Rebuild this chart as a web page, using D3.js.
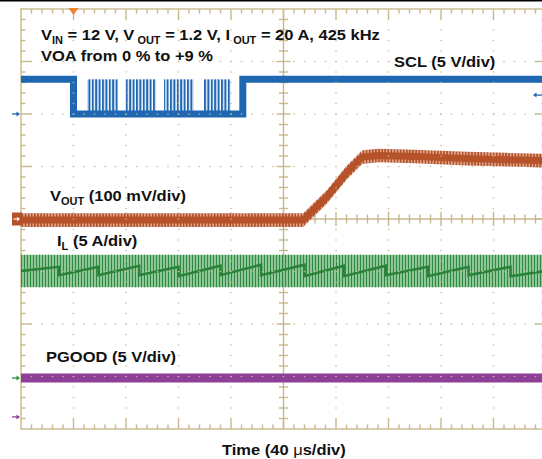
<!DOCTYPE html>
<html>
<head>
<meta charset="utf-8">
<script src="https://cdn.jsdelivr.net/npm/d3@7"></script>
<style>
  body { margin: 0; background: #fff; }
  svg { display: block; }
  .lbl { font-family: "Liberation Sans", Arial, sans-serif; font-weight: bold; font-size: 15px; fill: #111; }
</style>
</head>
<body>
<div id="vis"></div>
<script>
const FRAME_WIDTH = 542;
const FRAME_HEIGHT = 459;
const GRID = {left: 21, top: 9, div: 52.5, nx: 10, ny: 8};

// time axis in µs, trigger at 0, 40 us/div
const TIME_DOMAIN = [-40, 360];

// SCL in volts (5 V/div, ground 2 div above centre)
const SCL_T = [-40, 0, 0, 129, 129, 360];
const SCL_V = [3.3, 3.3, 0, 0, 3.3, 3.3];
const SCL_BURST_START = [10.3, 39.2, 69, 99.4];
const SCL_BURST_END = [33.9, 62.9, 91.8, 120];
const SCL_TRIG_LEVEL = 1.8;

// VOUT deviation in mV (100 mV/div, ground at centre)
const VOUT_T = [-40, 175, 193, 208, 220, 232, 260, 300, 330, 360];
const VOUT_MV = [-2, -2, 42, 88, 118, 121, 119, 115, 113, 111];
const VOUT_RIPPLE = 13;

// inductor current in A (5 A/div): ripple envelope and the darker mean sawtooth
const IL_ENV_T = [-40, 360];
const IL_ENV_A = [10.2, 10.2];
const IL_RIPPLE = 1.55;
const IL_T = [-40, -11, -11, 19, 19, 50, 50, 80, 80, 112, 112, 143, 143, 176, 176, 206, 206, 238, 238, 270, 270, 301, 301, 333, 333, 360];
const IL_A = [10.2, 10.6, 9.8, 10.6, 9.8, 10.7, 9.8, 10.6, 9.7, 10.7, 9.8, 10.8, 9.8, 10.8, 9.7, 10.7, 9.7, 10.7, 9.8, 10.6, 9.7, 10.6, 9.8, 10.6, 9.7, 10.2];

// PGOOD in volts (5 V/div)
const PG_T = [-40, 360];
const PG_V = [3.7, 3.7];

// channel settings: units per div and ground offset in div
const CHANNELS = {
  scl: {perDiv: 5, offset: 2.0, color: '#1f66b3'},
  vout: {perDiv: 100, offset: 0, color: '#b5522a'},
  il: {perDiv: 5, offset: -3.03, color: '#2e8b3e'},
  pg: {perDiv: 5, offset: -3.77, color: '#8e3f98'}
};

const GRID_COLOR = '#c8b88c';

const svg = d3.select('#vis')
  .append('svg')
    .attr('width', FRAME_WIDTH)
    .attr('height', FRAME_HEIGHT);

const X_RIGHT = GRID.left + GRID.nx * GRID.div;
const Y_BOTTOM = GRID.top + GRID.ny * GRID.div;

const X_SCALE = d3.scaleLinear().domain(TIME_DOMAIN).range([GRID.left, X_RIGHT]);
const Y_DIV = d3.scaleLinear().domain([-GRID.ny / 2, GRID.ny / 2]).range([Y_BOTTOM, GRID.top]);

// one scale per channel, value -> pixel
function chScale(ch) {
  const c = CHANNELS[ch];
  return d3.scaleLinear()
    .domain([0, c.perDiv])
    .range([Y_DIV(c.offset), Y_DIV(c.offset + 1)]);
}
const Y_SCL = chScale('scl');
const Y_VOUT = chScale('vout');
const Y_IL = chScale('il');
const Y_PG = chScale('pg');

// patterns for the switching ripple
const defs = svg.append('defs');
function stripes(id, w, parts) {
  const p = defs.append('pattern')
    .attr('id', id)
    .attr('patternUnits', 'userSpaceOnUse')
    .attr('width', w).attr('height', 10);
  let x0 = 0;
  parts.forEach(([pw, col]) => {
    p.append('rect').attr('x', x0).attr('y', 0).attr('width', pw).attr('height', 10).attr('fill', col);
    x0 += pw;
  });
}
stripes('voutStripe', 3.1, [[1.9, '#b5522a'], [1.2, '#dc9f86']]);
stripes('ilStripe', 3.0, [[1.5, '#2e8b3e'], [1.5, '#8cc597']]);
stripes('sclStripe', 3.4, [[2.0, '#1f66b3'], [0.5, '#9bbbe0'], [0.9, '#ffffff']]);

// top black rule
svg.append('rect')
  .attr('x', 0).attr('y', 0).attr('width', FRAME_WIDTH).attr('height', 1.5)
  .attr('fill', '#000');

// borders and centre axes with ticks
const gAxes = svg.append('g').attr('stroke', GRID_COLOR).attr('stroke-width', 1.4).attr('fill', 'none');
gAxes.append('rect')
  .attr('x', GRID.left).attr('y', GRID.top)
  .attr('width', X_RIGHT - GRID.left).attr('height', Y_BOTTOM - GRID.top);

const xc = X_SCALE((TIME_DOMAIN[0] + TIME_DOMAIN[1]) / 2);
const yc = Y_DIV(0);
gAxes.append('line').attr('x1', GRID.left).attr('x2', X_RIGHT).attr('y1', yc).attr('y2', yc);
gAxes.append('line').attr('x1', xc).attr('x2', xc).attr('y1', GRID.top).attr('y2', Y_BOTTOM);

const minor = GRID.div / 5;
for (let i = 1; i < GRID.nx * 5; i++) {
  const x = GRID.left + i * minor;
  const major = i % 5 === 0;
  const len = major ? 10 : 4.5;
  gAxes.append('line').attr('x1', x).attr('x2', x).attr('y1', Y_BOTTOM).attr('y2', Y_BOTTOM - len);
  gAxes.append('line').attr('x1', x).attr('x2', x).attr('y1', GRID.top).attr('y2', GRID.top + len);
  gAxes.append('line').attr('x1', x).attr('x2', x).attr('y1', yc - (major ? 7 : 4.5)).attr('y2', yc + (major ? 7 : 4.5));
}
for (let j = 1; j < GRID.ny * 5; j++) {
  const y = GRID.top + j * minor;
  const major = j % 5 === 0;
  const len = major ? 11 : 4.5;
  gAxes.append('line').attr('x1', GRID.left).attr('x2', GRID.left + len).attr('y1', y).attr('y2', y);
  gAxes.append('line').attr('x1', X_RIGHT).attr('x2', X_RIGHT - len).attr('y1', y).attr('y2', y);
  gAxes.append('line').attr('x1', xc - (major ? 7 : 4.5)).attr('x2', xc + (major ? 7 : 4.5)).attr('y1', y).attr('y2', y);
}

// ---- traces ----
const line = (xs, ys, yS) => d3.line()
  .x((d, i) => X_SCALE(xs[i]))
  .y((d, i) => yS(ys[i]))(xs);

// PGOOD
svg.append('path')
  .attr('d', line(PG_T, PG_V, Y_PG))
  .attr('fill', 'none')
  .attr('stroke', CHANNELS.pg.color)
  .attr('stroke-width', 9);

// IL ripple band + mean sawtooth
const ilArea = d3.area()
  .x((d, i) => X_SCALE(IL_ENV_T[i]))
  .y0((d, i) => Y_IL(IL_ENV_A[i] - IL_RIPPLE))
  .y1((d, i) => Y_IL(IL_ENV_A[i] + IL_RIPPLE));
svg.append('path').attr('d', ilArea(IL_ENV_T)).attr('fill', 'url(#ilStripe)');
svg.append('path')
  .attr('d', line(IL_T, IL_A, Y_IL))
  .attr('fill', 'none')
  .attr('stroke', '#2a8239')
  .attr('stroke-width', 2.5);

// VOUT ripple band + core
const voutArea = d3.area()
  .x((d, i) => X_SCALE(VOUT_T[i]))
  .y0((d, i) => Y_VOUT(VOUT_MV[i] - VOUT_RIPPLE))
  .y1((d, i) => Y_VOUT(VOUT_MV[i] + VOUT_RIPPLE));
svg.append('path').attr('d', voutArea(VOUT_T)).attr('fill', 'url(#voutStripe)');
svg.append('path')
  .attr('d', line(VOUT_T, VOUT_MV, Y_VOUT))
  .attr('fill', 'none')
  .attr('stroke', CHANNELS.vout.color)
  .attr('stroke-width', 7);

// SCL: clock bursts, then the level trace
svg.selectAll('rect.burst')
  .data(SCL_BURST_START)
  .enter()
  .append('rect')
    .attr('class', 'burst')
    .attr('x', (d) => X_SCALE(d))
    .attr('width', (d, i) => X_SCALE(SCL_BURST_END[i]) - X_SCALE(d))
    .attr('y', Y_SCL(3.3))
    .attr('height', Y_SCL(0) - Y_SCL(3.3))
    .attr('fill', 'url(#sclStripe)');
svg.append('path')
  .attr('d', line(SCL_T, SCL_V, Y_SCL))
  .attr('fill', 'none')
  .attr('stroke', CHANNELS.scl.color)
  .attr('stroke-width', 7)
  .attr('stroke-linejoin', 'miter');

// dotted graticule on top
const gDots = svg.append('g').attr('fill', GRID_COLOR).attr('opacity', 0.9);
for (let i = 1; i < GRID.nx; i++) {
  if (i === GRID.nx / 2) continue;
  const x = GRID.left + i * GRID.div;
  for (let k = 1; k < GRID.ny * 5; k++) {
    gDots.append('rect').attr('x', x - 0.8).attr('y', GRID.top + k * minor - 0.6).attr('width', 1.6).attr('height', 1.2);
  }
}
for (let j = 1; j < GRID.ny; j++) {
  if (j === GRID.ny / 2) continue;
  const y = GRID.top + j * GRID.div;
  for (let k = 1; k < GRID.nx * 5; k++) {
    gDots.append('rect').attr('x', GRID.left + k * minor - 0.8).attr('y', y - 0.6).attr('width', 1.6).attr('height', 1.2);
  }
}

// ---- channel markers ----
function arrowRight(y, color) {
  const g = svg.append('g').attr('stroke', color).attr('fill', color).attr('stroke-width', 1.3);
  g.append('line').attr('x1', 12).attr('x2', 18).attr('y1', y).attr('y2', y);
  g.append('path').attr('d', `M${20},${y} L${16.5},${y - 2.5} L${16.5},${y + 2.5} Z`).attr('stroke', 'none');
}
arrowRight(Y_SCL(0), CHANNELS.scl.color);
arrowRight(Y_IL(0), CHANNELS.il.color);
arrowRight(Y_PG(0), CHANNELS.pg.color);

// active channel (VOUT) box marker
const yv = Y_VOUT(0);
svg.append('rect').attr('x', 12).attr('y', yv - 6.5).attr('width', 10).attr('height', 13).attr('fill', CHANNELS.vout.color);
svg.append('line').attr('x1', 13.5).attr('x2', 18).attr('y1', yv).attr('y2', yv).attr('stroke', '#fff').attr('stroke-width', 1.2);
svg.append('path').attr('d', `M20,${yv} L17,${yv - 2.3} L17,${yv + 2.3} Z`).attr('fill', '#fff');

// trigger level (right edge) and trigger position (top)
const yt = Y_SCL(SCL_TRIG_LEVEL);
svg.append('line').attr('x1', 536).attr('x2', 542).attr('y1', yt).attr('y2', yt).attr('stroke', CHANNELS.scl.color).attr('stroke-width', 1.3);
svg.append('path').attr('d', `M533,${yt} L536.5,${yt - 2.5} L536.5,${yt + 2.5} Z`).attr('fill', CHANNELS.scl.color);
const xt = X_SCALE(0);
svg.append('path').attr('d', `M${xt - 5},${GRID.top - 1} L${xt + 5},${GRID.top - 1} L${xt},${GRID.top + 6} Z`).attr('fill', '#f07f2e');

// ---- labels ----
// parts: [text, isSubscript, normalWeight]
function label(x, y, parts, sx) {
  const t = svg.append('text')
    .attr('class', 'lbl')
    .attr('transform', `translate(${x},${y}) scale(${sx},1)`);
  let sub = false;
  parts.forEach(([s, isSub, normal]) => {
    const ts = t.append('tspan').text(s);
    if (isSub && !sub) { ts.attr('dy', 3.5).style('font-size', '10px'); sub = true; }
    else if (!isSub && sub) { ts.attr('dy', -3.5); sub = false; }
    if (normal) ts.style('font-weight', 'normal');
  });
  return t;
}
const SX = 1.1;
label(41, 40, [['V'], ['IN', true], [' = 12 V, V'], [' OUT', true], [' = 1.2 V, I'], [' OUT', true], [' = 20 A, 425 kHz']], SX);
label(41, 61, [['VOA from 0 % to +9 %']], SX);
label(394, 67, [['SCL (5 V/div)']], SX);
label(50, 201, [['V'], ['OUT', true], [' (100 mV/div)']], SX);
label(57, 246, [['I'], ['L', true], [' (5 A/div)']], SX);
label(46, 361.5, [['PGOOD (5 V/div)']], SX);
label(222, 455, [['Time (40 '], ['\u03bc', false, true], ['s/div)']], SX);
</script>
</body>
</html>
